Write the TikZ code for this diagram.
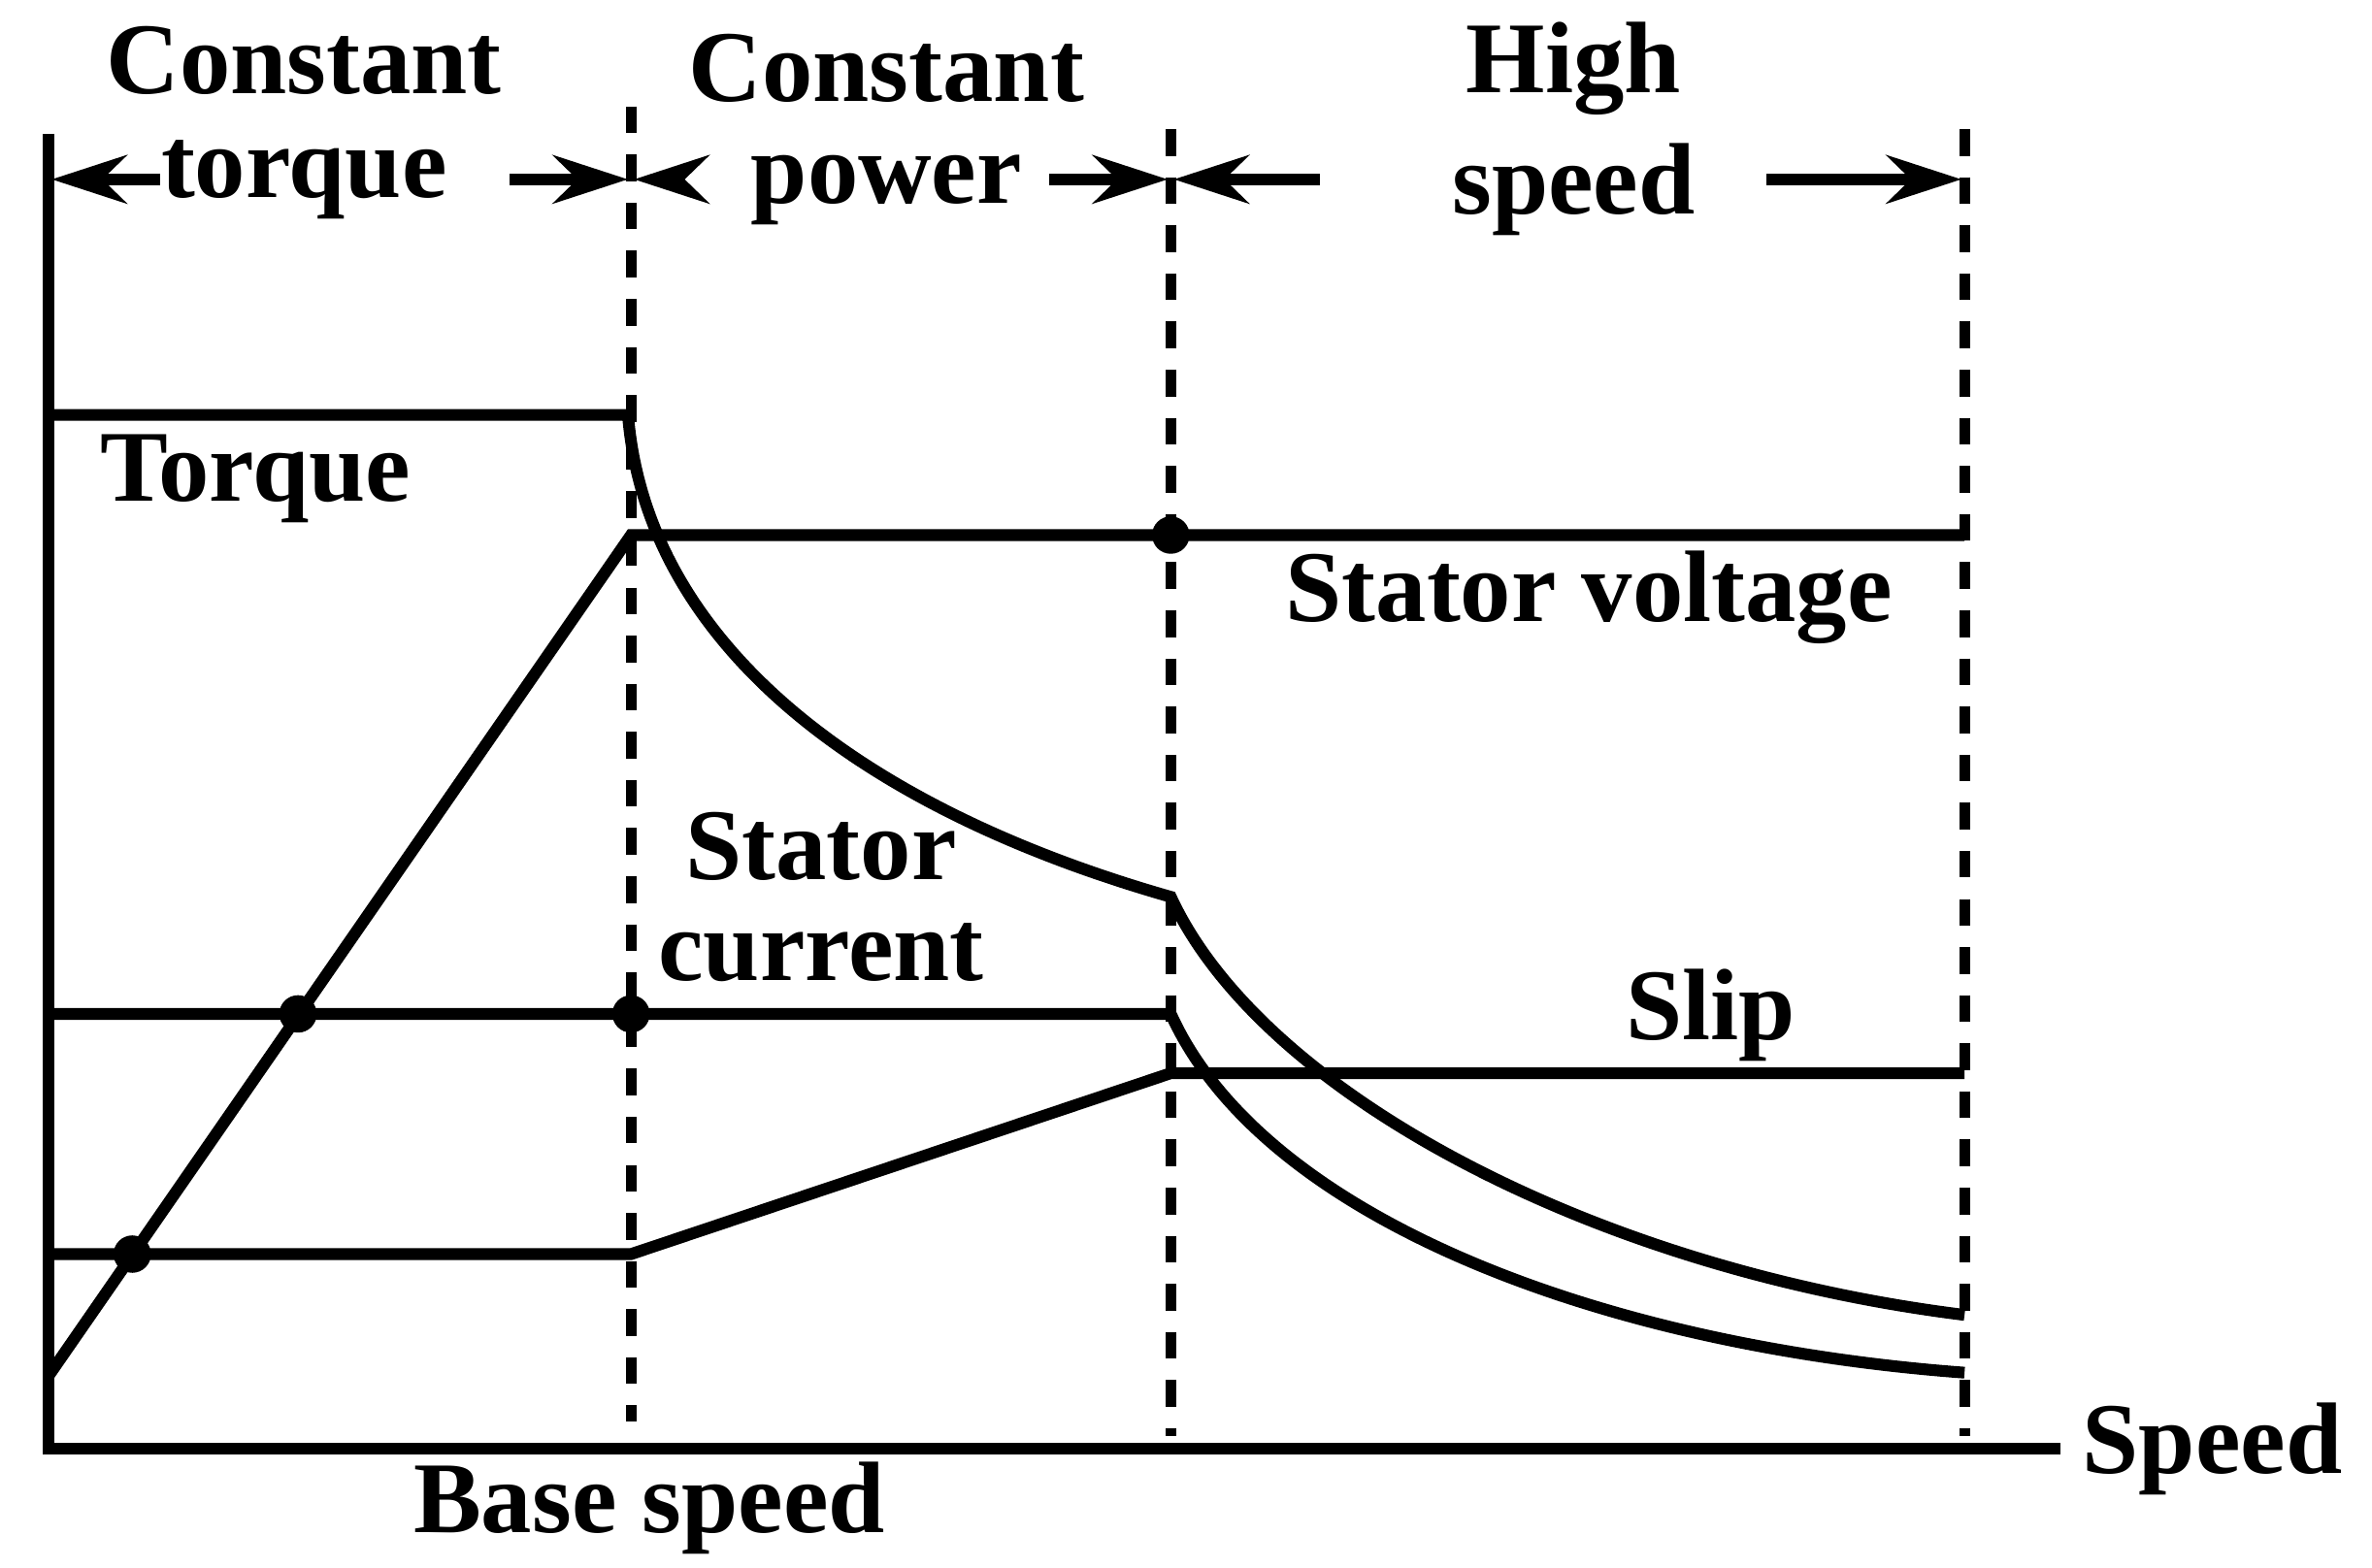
\documentclass[tikz,border=0pt]{standalone}
\usepackage{fontspec}
\setmainfont{Liberation Serif}
\usetikzlibrary{arrows.meta}
\begin{document}
\begin{tikzpicture}[x=0.01cm,y=-0.01cm,
  curve/.style={line width=2.2pt},
  vdot/.style={line width=2pt,dash pattern=on 5pt off 4pt},
  lab/.style={font=\fontsize{19}{23}\selectfont\bfseries,align=center,inner sep=0pt},
  arr/.style={line width=2.2pt,-{Stealth[length=14pt,width=9pt]}},
  pt/.style={circle,fill,inner sep=0pt,minimum size=7pt}]
\useasboundingbox (0,0) rectangle (1560,1031);
% axes
\coordinate (o) at (32,953);
\coordinate (ytop) at (32,88);
\coordinate (xend) at (1355,953);
\draw[curve] (ytop) -- (o) -- (xend);
% dotted verticals
\coordinate (d1t) at (415,70); \coordinate (d1b) at (415,935);
\coordinate (d2t) at (770,85); \coordinate (d2b) at (770,945);
\coordinate (d3t) at (1292,85); \coordinate (d3b) at (1292,945);
\draw[vdot] (d1t) -- (d1b);
\draw[vdot] (d2t) -- (d2b);
\draw[vdot] (d3t) -- (d3b);
% torque
\coordinate (t0) at (32,273); \coordinate (t1) at (413,273);
\coordinate (t2) at (770,590); \coordinate (t3) at (1292,865);
\draw[curve] (t0) -- (t1) .. controls (425,420) and (560,530) .. (t2)
  .. controls (830,720) and (1050,835) .. (t3);
% stator voltage
\coordinate (v0) at (32,905); \coordinate (v1) at (415,352); \coordinate (v2) at (1292,352);
\draw[curve] (v0) -- (v1) -- (v2);
\node[pt] (pv) at (770,352) {};
% stator current
\coordinate (c0) at (32,667); \coordinate (c1) at (770,667); \coordinate (c2) at (1292,903);
\draw[curve] (c0) -- (c1) .. controls (830,800) and (1050,885) .. (c2);
\node[pt] (pc1) at (196,667) {};
\node[pt] (pc2) at (415,667) {};
% slip
\coordinate (s0) at (32,825); \coordinate (s1) at (415,825);
\coordinate (s2) at (770,706); \coordinate (s3) at (1292,706);
\draw[curve] (s0) -- (s1) -- (s2) -- (s3);
\node[pt] (ps) at (87,825) {};
% region labels
\node[lab] (r1a) at (200,40) {Constant};
\node[lab] (r1b) at (200,118) {torque};
\node[lab] (r2a) at (583,45) {Constant};
\node[lab] (r2b) at (583,125) {power};
\node[lab] (r3a) at (1035,45) {High};
\node[lab] (r3b) at (1035,125) {speed};
\coordinate (a1l) at (34,118); \coordinate (a1r) at (413,118);
\coordinate (a2l) at (417,118); \coordinate (a2r) at (768,118);
\coordinate (a3l) at (772,118); \coordinate (a3r) at (1290,118);
\draw[arr] (105,118) -- (a1l);
\draw[arr] (335,118) -- (a1r);
\draw[arr] (450,118) -- (a2l);
\draw[arr] (690,118) -- (a2r);
\draw[arr] (868,118) -- (a3l);
\draw[arr] (1162,118) -- (a3r);
% curve labels
\node[lab] (lt) at (168,315) {Torque};
\node[lab] (lv) at (1045,393) {Stator voltage};
\node[lab] (lc) at (540,590) {Stator\\[-4pt]current};
\node[lab] (ls) at (1125,668) {Slip};
\node[lab] (lb) at (427,992) {Base speed};
\node[lab] (lx) at (1455,953) {Speed};
\end{tikzpicture}
\end{document}
